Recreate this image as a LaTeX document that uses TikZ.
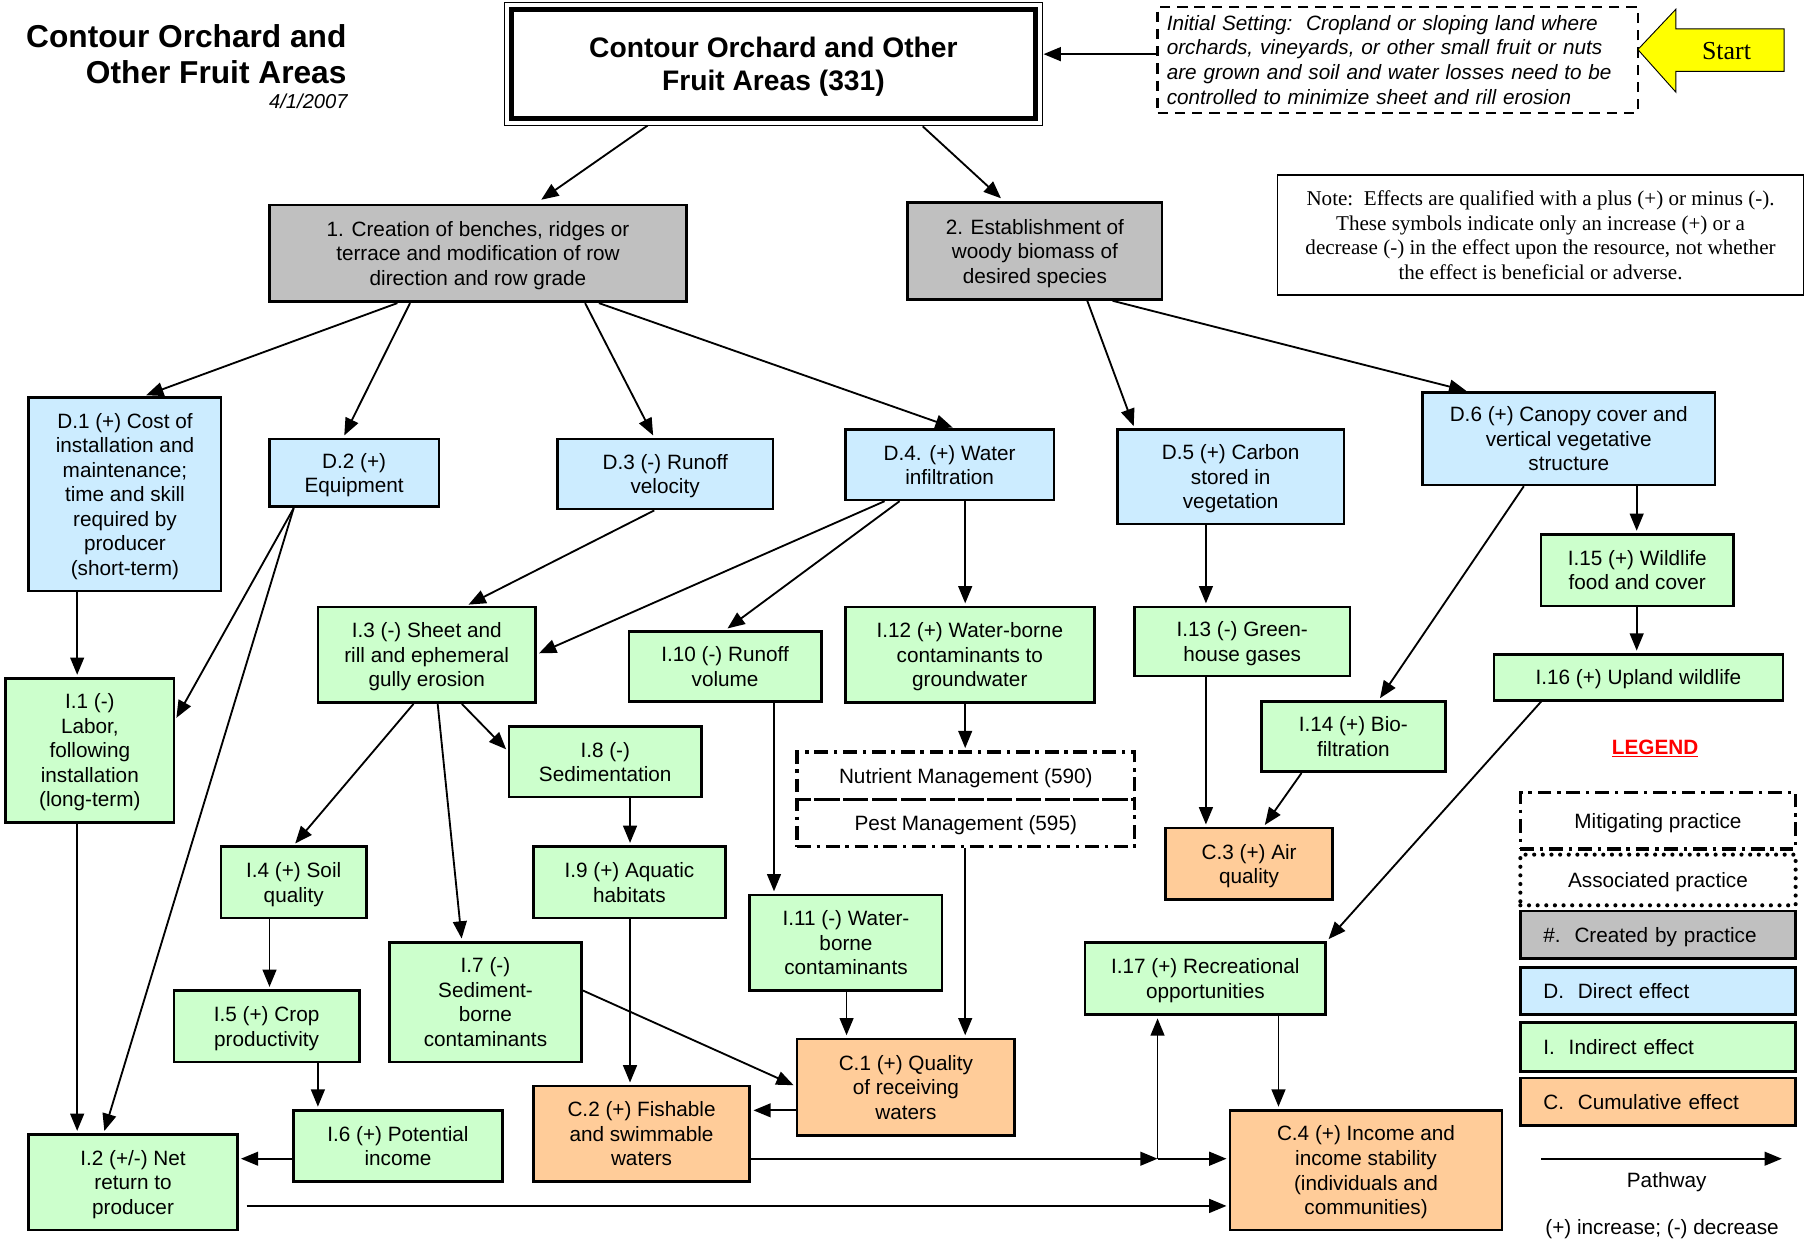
\documentclass[tikz,border=0pt]{standalone}
\usepackage{fontspec}
\setmainfont{Liberation Sans}
\newfontfamily\timesfont{Liberation Serif}
\usetikzlibrary{arrows.meta}

\definecolor{practicegray}{RGB}{192,192,192}
\definecolor{directblue}{RGB}{204,236,255}
\definecolor{indirectgreen}{RGB}{204,255,204}
\definecolor{cumorange}{RGB}{255,204,153}
\definecolor{startyellow}{RGB}{255,255,0}

\newcommand\boxfont{\fontsize{18}{21.3}\selectfont}

% box placed by its corners: name, style, x1, y1, x2, y2, text
\newcommand\effbox[7]{%
  \pgfmathsetmacro\bxcx{(#3+#5)/2}%
  \pgfmathsetmacro\bxcy{(#4+#6)/2}%
  \pgfmathsetmacro\bxw{#5-#3}%
  \pgfmathsetmacro\bxh{#6-#4}%
  \node[#2, minimum width=\bxw pt, minimum height=\bxh pt] (#1) at (\bxcx,\bxcy) {#7};%
}

\tikzset{
  base/.style={draw, line width=2.3pt, inner sep=0pt, text depth=0pt, align=center, font=\boxfont},
  made/.style={base, fill=practicegray},
  direct/.style={base, fill=directblue},
  indirect/.style={base, fill=indirectgreen},
  cumul/.style={base, fill=cumorange},
  mitig/.style={draw, line width=3pt, dash pattern=on 12pt off 5pt on 3pt off 5pt, inner sep=0pt, text depth=0pt, align=center, font=\boxfont},
  assoc/.style={draw, line width=3.6pt, line cap=round, dash pattern=on 0pt off 7.5pt, inner sep=0pt, text depth=0pt, align=center, font=\boxfont},
  legbox/.style={draw, line width=2.3pt, inner ysep=0pt, inner xsep=20pt, text depth=0pt, text width=199pt, align=left, font=\boxfont},
  setting/.style={draw, line width=2pt, dash pattern=on 9pt off 6pt, inner xsep=8pt, inner ysep=0pt, text width=401pt, align=left, font=\fontsize{18}{21.5}\selectfont\itshape},
  notebox/.style={draw, line width=1.2pt, inner sep=0pt, text depth=0pt, align=center, font=\timesfont\fontsize{18.3}{21.3}\selectfont},
  arr/.style={line width=1.6pt, -{Triangle[length=15pt,width=12pt]}, shorten >=2pt},
  link/.style={line width=1.6pt}
}

\begin{document}
\begin{tikzpicture}[x=1pt, y=-1pt]
\useasboundingbox (0,0) rectangle (1568,1077);
\fill[white] (0,0) rectangle (1568,1077);

% heading
\node[anchor=east, align=right, inner sep=0pt, font=\fontsize{27.5}{32}\selectfont\bfseries] (heading) at (301,47) {Contour Orchard and\\Other Fruit Areas};
\node[anchor=east, inner sep=0pt, font=\fontsize{17.5}{20}\selectfont\itshape] (date) at (302,88) {4/1/2007};

% practice box with double frame
\effbox{title}{draw, line width=4pt, inner sep=0pt, text depth=0pt, align=center, font=\fontsize{24.5}{29}\selectfont\bfseries}{444}{8}{899}{103}{Contour Orchard and Other\\Fruit Areas (331)}
\draw[line width=1.2pt] ([shift={(-4pt,4pt)}]title.north west) rectangle ([shift={(4pt,-4pt)}]title.south east);

% initial setting and start arrow
\effbox{init}{setting}{1005}{6}{1422}{98}{Initial Setting:\ \ Cropland or sloping land where\\orchards, vineyards, or other small fruit or nuts\\are grown and soil and water losses need to be\\controlled to minimize sheet and rill erosion}
\filldraw[fill=startyellow, draw=black, line width=0.8pt] (1422,43) -- (1455,8) -- (1455,25) -- (1549,25) -- (1549,62) -- (1455,62) -- (1455,80) -- cycle;
\node[font=\timesfont\fontsize{22.5}{25}\selectfont] (start) at (1499,44) {Start};

% note
\effbox{note}{notebox}{1109}{152}{1566}{256}{Note:\ \ Effects are qualified with a plus (+) or minus (-).\\These symbols indicate only an increase (+) or a\\decrease (-) in the effect upon the resource, not whether\\the effect is beneficial or adverse.}

% created by practice
\effbox{b1}{made}{234}{178}{596}{262}{1. Creation of benches, ridges or\\terrace and modification of row\\direction and row grade}
\effbox{b2}{made}{788}{176}{1009}{260}{2. Establishment of\\woody biomass of\\desired species}

% direct effects
\effbox{d1}{direct}{25}{345}{192}{513}{D.1 (+) Cost of\\installation and\\maintenance;\\time and skill\\required by\\producer\\(short-term)}
\effbox{d2}{direct}{234}{381}{381}{440}{D.2 (+)\\Equipment}
\effbox{d3}{direct}{484}{381}{671}{442}{D.3 (-) Runoff\\velocity}
\effbox{d4}{direct}{734}{373}{915}{434}{D.4. (+) Water\\infiltration}
\effbox{d5}{direct}{970}{373}{1167}{455}{D.5 (+) Carbon\\stored in\\vegetation}
\effbox{d6}{direct}{1235}{341}{1489}{421}{D.6 (+) Canopy cover and\\vertical vegetative\\structure}

% indirect effects
\effbox{i1}{indirect}{5}{589}{151}{714}{I.1 (-)\\Labor,\\following\\installation\\(long-term)}
\effbox{i2}{indirect}{25}{985}{206}{1068}{I.2 (+/-) Net\\return to\\producer}
\effbox{i3}{indirect}{276}{527}{465}{610}{I.3 (-) Sheet and\\rill and ephemeral\\gully erosion}
\effbox{i4}{indirect}{192}{735}{318}{797}{I.4 (+) Soil\\quality}
\effbox{i5}{indirect}{151}{860}{312}{922}{I.5 (+) Crop\\productivity}
\effbox{i6}{indirect}{255}{964}{436}{1026}{I.6 (+) Potential\\income}
\effbox{i7}{indirect}{338}{818}{505}{922}{I.7 (-)\\Sediment-\\borne\\contaminants}
\effbox{i8}{indirect}{442}{631}{609}{692}{I.8 (-)\\Sedimentation}
\effbox{i9}{indirect}{463}{735}{630}{797}{I.9 (+) Aquatic\\habitats}
\effbox{i10}{indirect}{546}{548}{713}{609}{I.10 (-) Runoff\\volume}
\effbox{i11}{indirect}{651}{777}{818}{860}{I.11 (-) Water-\\borne\\contaminants}
\effbox{i12}{indirect}{734}{527}{950}{610}{I.12 (+) Water-borne\\contaminants to\\groundwater}
\effbox{i13}{indirect}{985}{527}{1172}{587}{I.13 (-) Green-\\house gases}
\effbox{i14}{indirect}{1095}{609}{1255}{670}{I.14 (+) Bio-\\filtration}
\effbox{i15}{indirect}{1338}{464}{1505}{526}{I.15 (+) Wildlife\\food and cover}
\effbox{i16}{indirect}{1297}{568}{1548}{608}{I.16 (+) Upland wildlife}
\effbox{i17}{indirect}{942}{818}{1151}{881}{I.17 (+) Recreational\\opportunities}

% mitigating practices
\effbox{nm}{mitig}{692}{653}{985}{694}{Nutrient Management (590)}
\effbox{pm}{mitig}{692}{694}{985}{735}{Pest Management (595)}

% cumulative effects
\effbox{c1}{cumul}{692}{902}{881}{986}{C.1 (+) Quality\\of receiving\\waters}
\effbox{c2}{cumul}{463}{943}{651}{1026}{C.2 (+) Fishable\\and swimmable\\waters}
\effbox{c3}{cumul}{1012}{719}{1157}{781}{C.3 (+) Air\\quality}
\effbox{c4}{cumul}{1068}{964}{1304}{1068}{C.4 (+) Income and\\income stability\\(individuals and\\communities)}

% pathways
\draw[arr, shorten >=5pt] (init.west |- 0,47) -- (title.east |- 0,47);
\draw[arr, shorten <=7pt, shorten >=6pt] (title.south -| 568,0) -- (b1.north -| 465,0);
\draw[arr, shorten <=7pt, shorten >=4pt] (title.south -| 796,0) -- (b2.north -| 872,0);
\draw[arr] (b1.south -| 345,0) -- (d1.north -| 125,0);
\draw[arr] (b1.south -| 356,0) -- (d2.north -| 298,0);
\draw[arr] (b1.south -| 508,0) -- (d3.north -| 568,0);
\draw[arr] (b1.south -| 520,0) -- (d4.north -| 829,0);
\draw[arr] (b2.south -| 944,0) -- (d5.north -| 985,0);
\draw[arr] (b2.south -| 966,0) -- (d6.north -| 1275,0);
\draw[arr] (d1.south -| 67,0) -- (i1.north -| 67,0);
\draw[arr] (d2.south -| 255,0) -- (i1.east |- 0,625);
\draw[arr] (d2.south -| 255,0) -- (i2.north -| 90,0);
\draw[arr] (d3.south -| 568,0) -- (i3.north -| 405,0);
\draw[arr] (d4.south -| 768,0) -- (i3.east |- 0,568);
\draw[arr] (d4.south -| 781,0) -- (i10.north -| 630,0);
\draw[arr] (d4.south -| 838,0) -- (i12.north -| 838,0);
\draw[arr] (d5.south -| 1047,0) -- (i13.north -| 1047,0);
\draw[arr] (d6.south -| 1323,0) -- (i14.north -| 1197,0);
\draw[arr] (d6.south -| 1421,0) -- (i15.north -| 1421,0);
\draw[arr] (i15.south -| 1421,0) -- (i16.north -| 1421,0);
\draw[arr] (i16.south -| 1338,0) -- (i17.north east);
\draw[arr] (i3.south -| 359,0) -- (i4.north -| 255,0);
\draw[arr] (i3.south -| 380,0) -- (i7.north -| 401,0);
\draw[arr] (i3.south -| 401,0) -- (i8.west |- 0,652);
\draw[arr] (i8.south -| 547,0) -- (i9.north -| 547,0);
\draw[arr] (i9.south -| 547,0) -- (c2.north -| 547,0);
\draw[arr] (i10.south -| 672,0) -- (i11.north -| 672,0);
\draw[arr] (i12.south -| 838,0) -- (nm.north -| 838,0);
\draw[arr] (pm.south -| 838,0) -- (c1.north -| 838,0);
\draw[arr] (i11.south -| 735,0) -- (c1.north -| 735,0);
\draw[arr] (i13.south -| 1047,0) -- (c3.north -| 1047,0);
\draw[arr] (i14.south -| 1130,0) -- (c3.north -| 1097,0);
\draw[arr] (i4.south -| 234,0) -- (i5.north -| 234,0);
\draw[arr] (i5.south -| 276,0) -- (i6.north -| 276,0);
\draw[arr] (i7.east |- 0,860) -- (c1.west |- 0,943);
\draw[arr] (c1.west |- 0,964) -- (c2.east |- 0,964);
\draw[arr] (i6.west |- 0,1006) -- (i2.east |- 0,1006);
\draw[arr] (i1.south -| 67,0) -- (i2.north -| 67,0);
\coordinate (jn) at (1005,1006);
\draw[arr, shorten >=0pt] (c2.east |- 0,1006) -- (jn);
\draw[arr] (jn) -- (c4.west |- jn);
\draw[arr] (jn) -- (i17.south -| jn);
\draw[arr] (i17.south -| 1110,0) -- (c4.north -| 1110,0);
\draw[arr, shorten <=7pt] (i2.east |- 0,1047) -- (c4.west |- 0,1047);

% legend
\node[font=\fontsize{18}{21}\selectfont\bfseries, text=red] (legend) at (1437,650) {\underline{LEGEND}};
\effbox{lmit}{mitig}{1320}{688}{1559}{737}{Mitigating practice}
\effbox{lassoc}{assoc}{1320}{742}{1559}{786}{Associated practice}
\effbox{lmade}{legbox, fill=practicegray}{1320}{791}{1559}{832}{\#.\ \ Created by practice}
\effbox{ldir}{legbox, fill=directblue}{1320}{840}{1559}{881}{D.\ \ Direct effect}
\effbox{lind}{legbox, fill=indirectgreen}{1320}{888}{1559}{930}{I.\ \ Indirect effect}
\effbox{lcum}{legbox, fill=cumorange}{1320}{936}{1559}{977}{C.\ \ Cumulative effect}
\coordinate (pathl) at (1338,1006);
\coordinate (pathr) at (1547,1006);
\draw[arr, shorten >=0pt] (pathl) -- (pathr);
\node[font=\boxfont] (pathway) at (1447,1026) {Pathway};
\node[font=\boxfont] (signs) at (1443,1067) {(+) increase; (-) decrease};
\end{tikzpicture}
\end{document}
